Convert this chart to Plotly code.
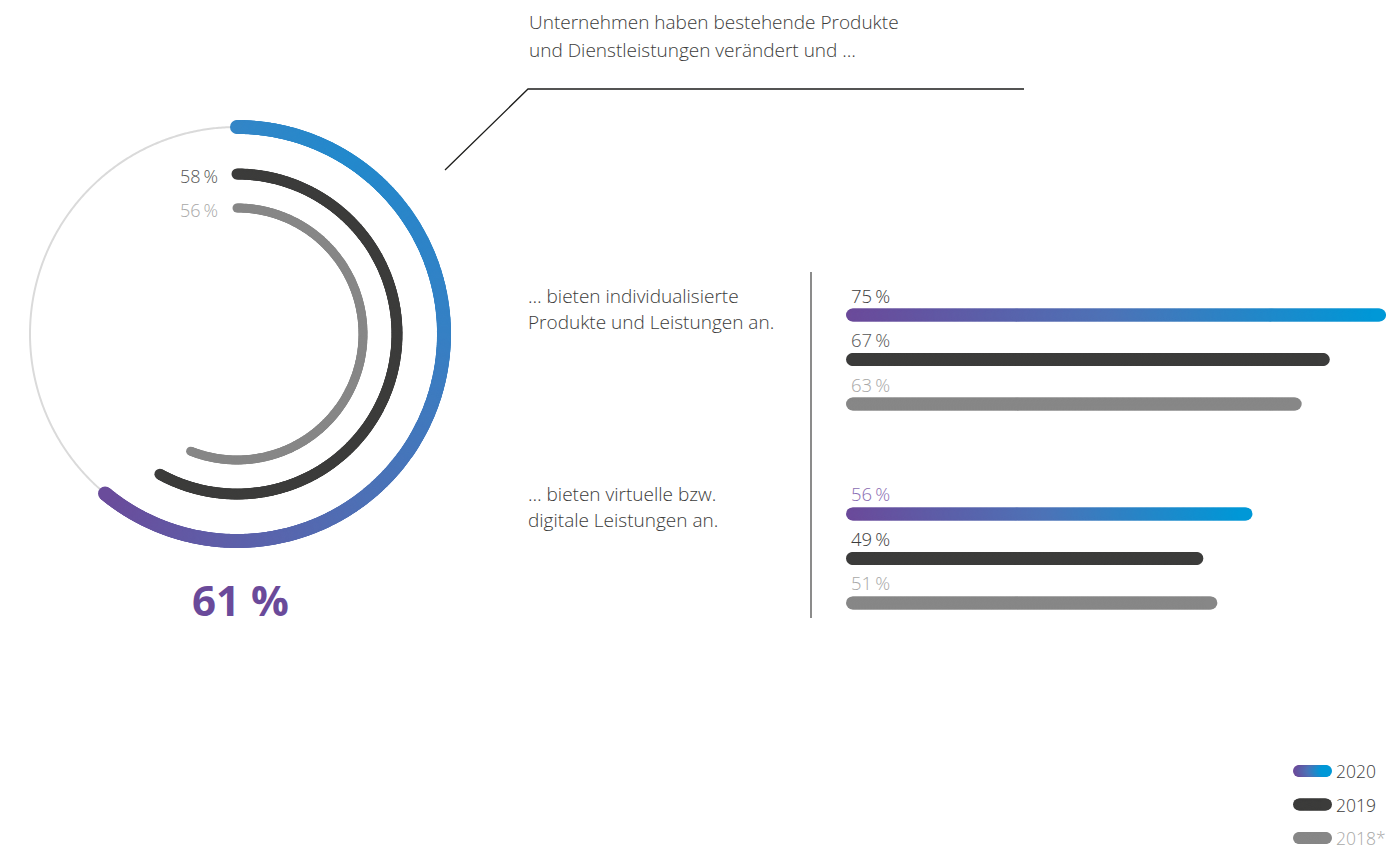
import numpy as np
import plotly.graph_objects as go

W, H = 1386, 850

# ---- data -------------------------------------------------------------
years = ["2020", "2019", "2018*"]

# share of companies that changed existing products and services
ring_values = [61, 58, 56]

# what those companies offer, per group
groups = [
    ["… bieten individualisierte", "Produkte und Leistungen an."],
    ["… bieten virtuelle bzw.", "digitale Leistungen an."],
]
values_2020 = [75, 56]
values_2019 = [67, 49]
values_2018 = [63, 51]

headline = ["Unternehmen haben bestehende Produkte",
            "und Dienstleistungen verändert und …"]

# ---- styling ----------------------------------------------------------
FONT = "Open Sans"
DARK = "#3c3c3b"
GREY = "#878787"
TRACK = "#dadada"
PURPLE = "#6a4a9a"
BAR_SCALE = [[0, "#6b4a9a"], [0.5, "#4d73b7"], [1, "#0098d7"]]
RING_SCALE = [[0, "#3486c7"], [0.15, "#2389cc"], [0.4, "#3581c5"],
              [0.65, "#4d71b6"], [0.85, "#5f5ea8"], [1, "#6a4c9b"]]


def px(x):
    return x / W


def py(y):
    return 1 - y / H


fig = go.Figure()

# ---- ring chart (polar) -----------------------------------------------
ring_cx, ring_cy, ring_box = 237, 334, 216
ring_radius = [207, 160, 126]
ring_width = [14, 11, 9]
ring_colors = [None, DARK, GREY]

# full background track
t_full = np.linspace(0, 360, 721)
fig.add_trace(go.Scatterpolar(
    r=np.full_like(t_full, ring_radius[0]), theta=t_full, mode="lines",
    line=dict(color=TRACK, width=2), hoverinfo="skip", showlegend=False))

for val, rad, wid, col in zip(ring_values, ring_radius, ring_width, ring_colors):
    sweep = val / 100 * 360
    n = int(np.deg2rad(sweep) * rad / 1.2) + 2
    theta = np.linspace(0, sweep, n)
    frac = np.linspace(0, 1, n)
    marker = dict(size=wid, line=dict(width=0))
    if col is None:
        marker.update(color=frac, colorscale=RING_SCALE, cmin=0, cmax=1)
    else:
        marker.update(color=col)
    fig.add_trace(go.Scatterpolar(
        r=np.full(n, rad), theta=theta, mode="markers", marker=marker,
        hoverinfo="skip", showlegend=False))

# ---- horizontal bars (cartesian) --------------------------------------
X0_PX, UNIT_PX = 852.5, 7.027          # value 0 position and px per percent
ROW_PX, ROW0_PX, GROUP_STEP = 44.5, 315, 4.47

series = [(values_2020, None), (values_2019, DARK), (values_2018, GREY)]
label_colors = {
    (0, 0): DARK, (0, 1): "#555554", (0, 2): "#a8a8a7",
    (1, 0): "#8a6db3", (1, 1): DARK, (1, 2): "#a8a8a7",
}

for s, (vals, col) in enumerate(series):
    for g, v in enumerate(vals):
        row = g * GROUP_STEP + s
        n = int(v * UNIT_PX / 1.2) + 2
        xs = np.linspace(0, v, n)
        marker = dict(size=13, line=dict(width=0))
        if col is None:
            marker.update(color=np.linspace(0, 1, n), colorscale=BAR_SCALE, cmin=0, cmax=1)
        else:
            marker.update(color=col)
        fig.add_trace(go.Scatter(
            x=xs, y=np.full(n, row), mode="markers", marker=marker,
            cliponaxis=False, hoverinfo="skip", showlegend=False,
            xaxis="x", yaxis="y"))
        fig.add_annotation(
            x=0, y=row, xref="x", yref="y", text=f"{v}\u2009%",
            xanchor="left", yanchor="middle", xshift=-4, yshift=20,
            showarrow=False,
            font=dict(family=FONT, size=18.5, color=label_colors[(g, s)], weight=300))

# ---- legend keys --------------------------------------------------------
legend_text_colors = [DARK, DARK, "#a8a8a7"]
legend_fill = [None, DARK, GREY]
for i, (yr, col) in enumerate(zip(years, legend_fill)):
    n = 30
    marker = dict(size=12, line=dict(width=0))
    if col is None:
        marker.update(color=np.linspace(0, 1, n), colorscale=BAR_SCALE, cmin=0, cmax=1)
    else:
        marker.update(color=col)
    fig.add_trace(go.Scatter(
        x=np.linspace(0, 1, n), y=np.full(n, i), mode="markers", marker=marker,
        cliponaxis=False, hoverinfo="skip", showlegend=False,
        xaxis="x2", yaxis="y2"))
    fig.add_annotation(
        x=1, y=i, xref="x2", yref="y2", text=yr, xanchor="left", yanchor="middle",
        xshift=8, showarrow=False,
        font=dict(family=FONT, size=17.5, color=legend_text_colors[i], weight=300))

# ---- texts ----------------------------------------------------------------
def text(x, y, s, size=19, color=DARK, anchor="left", weight=300):
    fig.add_annotation(x=px(x), y=py(y), xref="paper", yref="paper", text=s,
                       xanchor=anchor, yanchor="middle", showarrow=False,
                       font=dict(family=FONT, size=size, color=color, weight=weight))


text(527, 22, headline[0])
text(527, 50, headline[1])
text(526, 296, groups[0][0])
text(526, 322, groups[0][1])
text(526, 494, groups[1][0])
text(526, 520, groups[1][1])

text(220, 176, f"{ring_values[1]}\u2009%", size=18, color="#555554", anchor="right")
text(220, 210, f"{ring_values[2]}\u2009%", size=18, color="#a8a8a7", anchor="right")
text(240, 599, f"{ring_values[0]} %", size=42, color=PURPLE, anchor="center", weight=700)

# connector and separator
fig.add_shape(type="path", xref="paper", yref="paper",
              path=f"M {px(445)} {py(170)} L {px(528)} {py(89)} L {px(1024)} {py(89)}",
              line=dict(color="#1d1d1b", width=1.3))
fig.add_shape(type="line", xref="paper", yref="paper",
              x0=px(811), x1=px(811), y0=py(272), y1=py(618),
              line=dict(color="#6f6f6e", width=1.6))

# ---- layout -----------------------------------------------------------------
hidden = dict(visible=False, showgrid=False, zeroline=False, fixedrange=True)
fig.update_layout(
    width=W, height=H, margin=dict(l=0, r=0, t=0, b=0),
    paper_bgcolor="white", plot_bgcolor="rgba(0,0,0,0)",
    polar=dict(
        domain=dict(x=[px(ring_cx - ring_box), px(ring_cx + ring_box)],
                    y=[py(ring_cy + ring_box), py(ring_cy - ring_box)]),
        bgcolor="rgba(0,0,0,0)",
        radialaxis=dict(visible=False, range=[0, ring_box], showgrid=False),
        angularaxis=dict(visible=False, rotation=90, direction="clockwise",
                         showgrid=False, showline=False),
    ),
    xaxis=dict(hidden, domain=[px(X0_PX), 1],
               range=[0, (W - X0_PX) / UNIT_PX]),
    yaxis=dict(hidden, domain=[0, 1],
               range=[(H - ROW0_PX) / ROW_PX, -ROW0_PX / ROW_PX]),
    xaxis2=dict(hidden, domain=[px(1299), px(1326)], range=[0, 1], anchor="y2"),
    yaxis2=dict(hidden, domain=[0, 1], anchor="x2",
                range=[(H - 771) / 33.5, -771 / 33.5]),
    showlegend=False,
)

fig.write_html("out.html")
